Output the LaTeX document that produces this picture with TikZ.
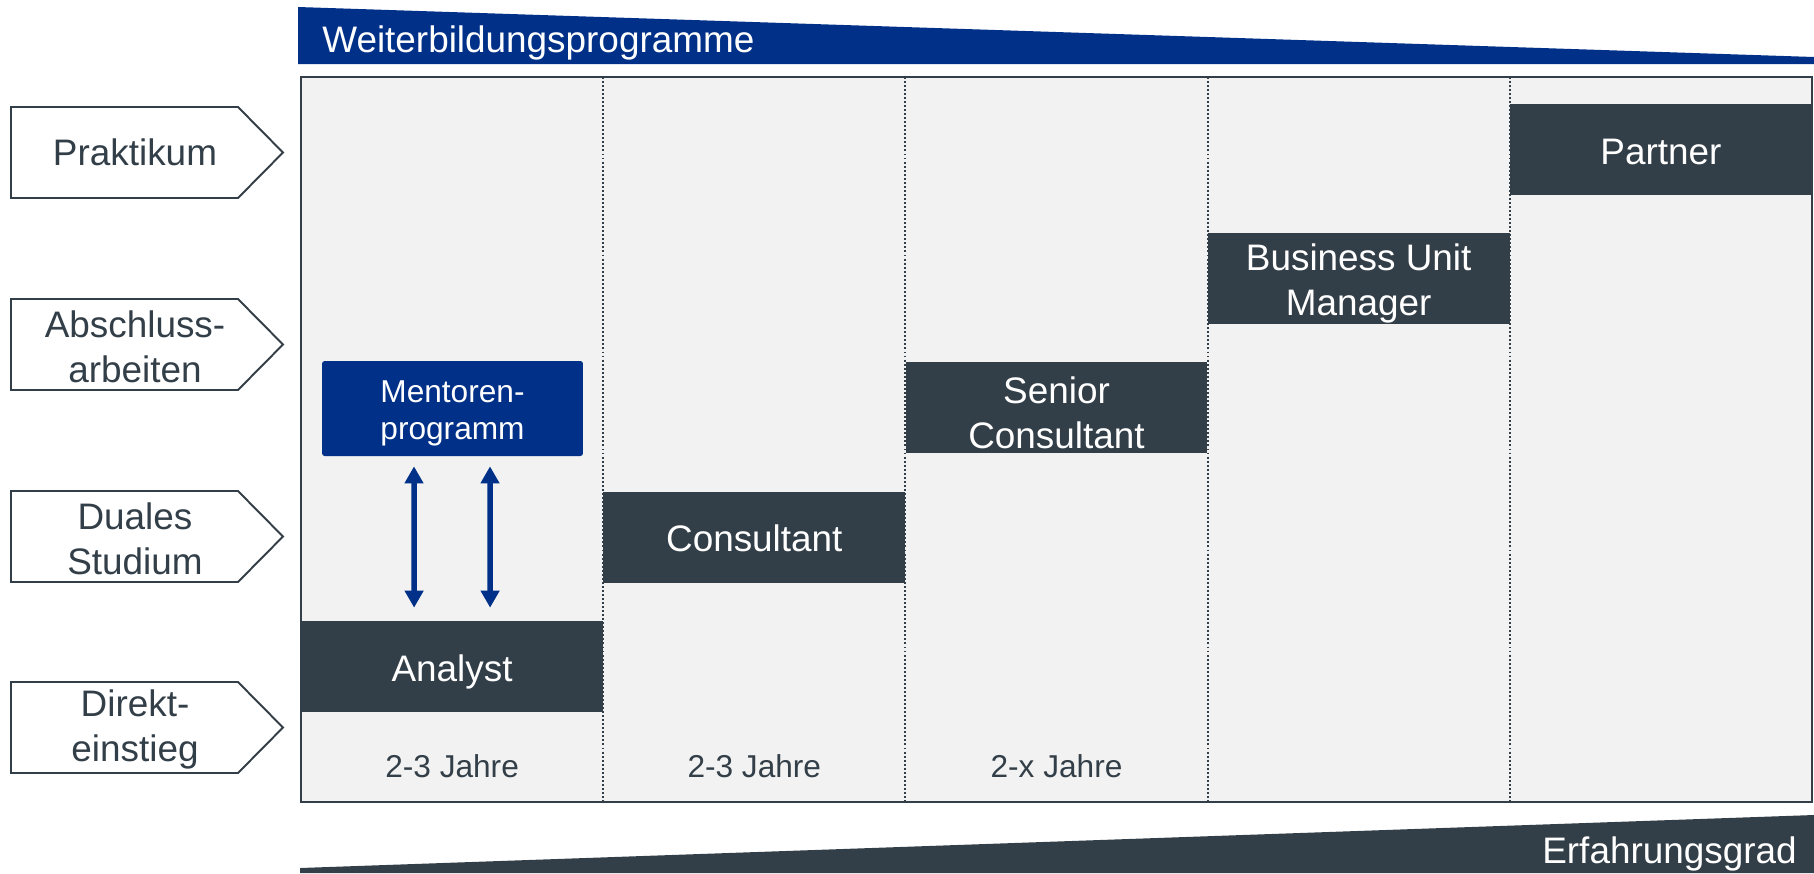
\documentclass[tikz,border=0pt]{standalone}
\usepackage{fontspec}
\setmainfont{Liberation Sans}
\usetikzlibrary{arrows.meta, calc, positioning}
\definecolor{navy}{RGB}{0,48,135}
\definecolor{charcoal}{RGB}{51,63,72}
\definecolor{panel}{RGB}{242,242,242}
\tikzset{
  bigfont/.style={font=\fontsize{21}{25.5}\selectfont},
  smallfont/.style={font=\fontsize{18}{21}\selectfont},
  level/.style={rectangle, fill=charcoal, text=white, bigfont, align=center,
    minimum width=6.04cm, minimum height=1.82cm, inner sep=0pt},
  oneline/.style={text height=16.8pt, text depth=0pt},
  twoline/.style={text=white, align=center, yshift=-0.09cm},
  entry/.style={text=charcoal, bigfont, align=center, yshift=-0.04cm},
  entrybox/.style={draw=charcoal, line width=1.1pt, fill=white},
  years/.style={text=charcoal, smallfont, anchor=base},
  sep/.style={charcoal, line width=1.1pt, dash pattern=on 1.1pt off 1.2pt},
  biarrow/.style={navy, line width=0.11cm,
    {Triangle[width=0.36cm,length=0.34cm]}-{Triangle[width=0.36cm,length=0.34cm]}}
}

\begin{document}
\begin{tikzpicture}[x=0.02cm, y=-0.02cm]
    \useasboundingbox (0,0) rectangle (1814,873);
    % wedges top and bottom
    \fill[navy] (298,64) -- (298,7) -- (1814,57) -- (1814,64) -- cycle;
    \node[bigfont, text=white, anchor=base west, inner sep=0pt] (weiter) at (322,52) {Weiterbildungsprogramme};
    \fill[charcoal] (300,873) -- (300,868) -- (1814,815) -- (1814,873) -- cycle;
    \node[bigfont, text=white, anchor=base east, inner sep=0pt] (erfahrung) at (1797,863) {Erfahrungsgrad};

    % panel with columns
    \node[rectangle, fill=panel, minimum width=30.22cm, minimum height=14.5cm, inner sep=0pt] (frame) at (1056.5,439.5) {};
    \foreach \i in {1,...,4}
      \draw[sep] ($(frame.north west)!\i/5!(frame.north east)$) -- ($(frame.south west)!\i/5!(frame.south east)$);

    \node[level, oneline] (analyst) at (452.1,666.5) {Analyst};
    \node[level, oneline] (consultant) at (754.3,537.2) {Consultant};
    \node[level] (senior) at (1056.5,407.9) {};
    \node[twoline, bigfont] (seniortext) at (senior) {Senior\\Consultant};
    \node[level] (bum) at (1358.7,278.6) {};
    \node[twoline, bigfont] (bumtext) at (bum) {Business Unit\\Manager};
    \node[level, oneline] (partner) at (1660.9,149.3) {Partner};
    \draw[charcoal, line width=1.2pt] (frame.north west) rectangle (frame.south east);

    \node[rectangle, rounded corners=1.5pt, fill=navy, minimum width=5.22cm, minimum height=1.9cm] (mentor) at (452.5,408.5) {};
    \node[twoline, smallfont] (mentortext) at (mentor) {Mentoren-\\programm};
    \draw[biarrow] ($(mentor.south)+(-38.5,10)$) -- ($(analyst.north)+(-38,-13)$);
    \draw[biarrow] ($(mentor.south)+(37.5,10)$) -- ($(analyst.north)+(38,-13)$);

    \node[years] (jahre1) at (452.1,777) {2-3 Jahre};
    \node[years] (jahre2) at (754.3,777) {2-3 Jahre};
    \node[years] (jahre3) at (1056.5,777) {2-x Jahre};

    % entry points
    \foreach \t in {107,299,491,682}
      \draw[entrybox] (11,\t) -- (238,\t) -- (283,\t+45.5) -- (238,\t+91) -- (11,\t+91) -- cycle;
    \node[entry, yshift=0.04cm] (praktikum) at (135,152.5) {Praktikum};
    \node[entry] (abschluss) at (135,344.5) {Abschluss-\\arbeiten};
    \node[entry] (dual) at (135,536.5) {Duales\\Studium};
    \node[entry] (direkt) at (135,727.5) {Direkt-\\einstieg};
\end{tikzpicture}
\end{document}
